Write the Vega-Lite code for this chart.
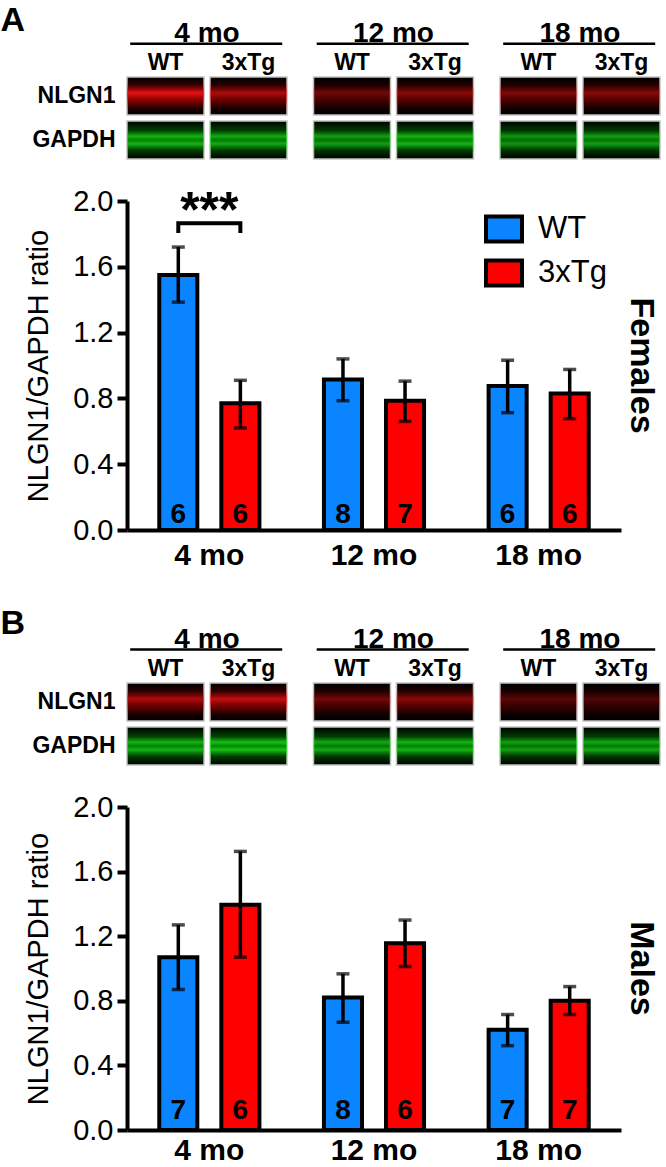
{
  "$schema": "https://vega.github.io/schema/vega-lite/v6.json",
  "padding": 0,
  "autosize": {"type": "pad"},
  "bounds": "flush",
  "spacing": 42,
  "config": {
    "font": "Liberation Sans, Arial, sans-serif",
    "view": {"stroke": null},
    "axis": {"labelColor": "black", "titleColor": "black", "domainColor": "black", "tickColor": "black", "grid": false},
    "title": {"color": "black"},
    "legend": {"labelColor": "black"}
  },
  "datasets": {
    "bars": [
      {"sex": "F", "age": "4 mo", "geno": "WT", "mean": 1.55, "lo": 1.385, "hi": 1.72, "n": 6},
      {"sex": "F", "age": "4 mo", "geno": "3xTg", "mean": 0.77, "lo": 0.62, "hi": 0.91, "n": 6},
      {"sex": "F", "age": "12 mo", "geno": "WT", "mean": 0.915, "lo": 0.786, "hi": 1.04, "n": 8},
      {"sex": "F", "age": "12 mo", "geno": "3xTg", "mean": 0.785, "lo": 0.66, "hi": 0.905, "n": 7},
      {"sex": "F", "age": "18 mo", "geno": "WT", "mean": 0.875, "lo": 0.713, "hi": 1.032, "n": 6},
      {"sex": "F", "age": "18 mo", "geno": "3xTg", "mean": 0.83, "lo": 0.677, "hi": 0.976, "n": 6},
      {"sex": "M", "age": "4 mo", "geno": "WT", "mean": 1.07, "lo": 0.87, "hi": 1.27, "n": 7},
      {"sex": "M", "age": "4 mo", "geno": "3xTg", "mean": 1.395, "lo": 1.07, "hi": 1.725, "n": 6},
      {"sex": "M", "age": "12 mo", "geno": "WT", "mean": 0.82, "lo": 0.667, "hi": 0.967, "n": 8},
      {"sex": "M", "age": "12 mo", "geno": "3xTg", "mean": 1.157, "lo": 1.012, "hi": 1.3, "n": 6},
      {"sex": "M", "age": "18 mo", "geno": "WT", "mean": 0.62, "lo": 0.522, "hi": 0.715, "n": 7},
      {"sex": "M", "age": "18 mo", "geno": "3xTg", "mean": 0.8, "lo": 0.715, "hi": 0.888, "n": 7}
    ],
    "blots": [
      {"panel": "A", "age": "4 mo", "geno": "WT", "row": "NLGN1", "level": 1.0},
      {"panel": "A", "age": "4 mo", "geno": "3xTg", "row": "NLGN1", "level": 0.75},
      {"panel": "A", "age": "12 mo", "geno": "WT", "row": "NLGN1", "level": 0.5},
      {"panel": "A", "age": "12 mo", "geno": "3xTg", "row": "NLGN1", "level": 0.6},
      {"panel": "A", "age": "18 mo", "geno": "WT", "row": "NLGN1", "level": 0.55},
      {"panel": "A", "age": "18 mo", "geno": "3xTg", "row": "NLGN1", "level": 0.6},
      {"panel": "A", "age": "4 mo", "geno": "WT", "row": "GAPDH", "level": 0.85},
      {"panel": "A", "age": "4 mo", "geno": "3xTg", "row": "GAPDH", "level": 0.8},
      {"panel": "A", "age": "12 mo", "geno": "WT", "row": "GAPDH", "level": 0.75},
      {"panel": "A", "age": "12 mo", "geno": "3xTg", "row": "GAPDH", "level": 0.85},
      {"panel": "A", "age": "18 mo", "geno": "WT", "row": "GAPDH", "level": 0.7},
      {"panel": "A", "age": "18 mo", "geno": "3xTg", "row": "GAPDH", "level": 0.75},
      {"panel": "B", "age": "4 mo", "geno": "WT", "row": "NLGN1", "level": 0.75},
      {"panel": "B", "age": "4 mo", "geno": "3xTg", "row": "NLGN1", "level": 0.85},
      {"panel": "B", "age": "12 mo", "geno": "WT", "row": "NLGN1", "level": 0.5},
      {"panel": "B", "age": "12 mo", "geno": "3xTg", "row": "NLGN1", "level": 0.6},
      {"panel": "B", "age": "18 mo", "geno": "WT", "row": "NLGN1", "level": 0.4},
      {"panel": "B", "age": "18 mo", "geno": "3xTg", "row": "NLGN1", "level": 0.35},
      {"panel": "B", "age": "4 mo", "geno": "WT", "row": "GAPDH", "level": 0.85},
      {"panel": "B", "age": "4 mo", "geno": "3xTg", "row": "GAPDH", "level": 0.9},
      {"panel": "B", "age": "12 mo", "geno": "WT", "row": "GAPDH", "level": 0.8},
      {"panel": "B", "age": "12 mo", "geno": "3xTg", "row": "GAPDH", "level": 0.85},
      {"panel": "B", "age": "18 mo", "geno": "WT", "row": "GAPDH", "level": 0.75},
      {"panel": "B", "age": "18 mo", "geno": "3xTg", "row": "GAPDH", "level": 0.8}
    ],
    "sig": [
      {"age": "4 mo", "geno": "WT", "v": 1.805, "k": 1},
      {"age": "4 mo", "geno": "WT", "v": 1.865, "k": 2},
      {"age": "4 mo", "geno": "3xTg", "v": 1.865, "k": 3},
      {"age": "4 mo", "geno": "3xTg", "v": 1.805, "k": 4}
    ]
  },
  "resolve": {
    "scale": {"x": "independent", "y": "independent", "xOffset": "independent", "fill": "independent", "opacity": "independent"},
    "legend": {"fill": "independent", "opacity": "independent"}
  },
  "vconcat": [
    {
      "width": 533,
      "height": 159,
      "data": {"name": "blots"},
      "transform": [{"filter": "datum.panel == 'A'"}],
      "encoding": {
        "x": {"field": "age", "type": "nominal", "sort": ["4 mo", "12 mo", "18 mo"], "scale": {"paddingInner": 0.142, "paddingOuter": 0}, "axis": null},
        "y": {"field": "row", "type": "nominal", "scale": {"domain": ["hdr", "NLGN1", "GAPDH"], "paddingInner": 0.1364, "paddingOuter": 0.375, "align": 1},
          "axis": {"title": "A", "titleAngle": 0, "titleAlign": "left", "titleBaseline": "alphabetic", "titleX": -127, "titleY": 30, "titleFontSize": 34, "titleFontWeight": "bold",
            "domain": false, "ticks": false, "labelExpr": "datum.value == 'hdr' ? '' : datum.value", "labelFontSize": 23, "labelFontWeight": "bold", "labelPadding": 12}}
      },
      "layer": [
        {
          "mark": {"type": "rect", "fill": "black", "stroke": "#c4c4c4", "strokeWidth": 1.5},
          "encoding": {"xOffset": {"field": "geno", "type": "nominal", "sort": ["WT", "3xTg"], "scale": {"paddingInner": 0.072, "paddingOuter": 0}}}
        },
        {
          "transform": [{"filter": "datum.row == 'NLGN1'"}],
          "mark": {"type": "rect", "fill": {"gradient": "linear", "x1": 0, "y1": 0, "x2": 0, "y2": 1, "stops": [
            {"offset": 0, "color": "rgba(255,0,0,0)"},
            {"offset": 0.2, "color": "rgba(255,0,0,0.2)"},
            {"offset": 0.42, "color": "rgba(255,20,20,0.9)"},
            {"offset": 0.6, "color": "rgba(255,0,0,0.55)"},
            {"offset": 0.85, "color": "rgba(255,0,0,0.1)"},
            {"offset": 1, "color": "rgba(255,0,0,0)"}]}},
          "encoding": {
            "xOffset": {"field": "geno", "type": "nominal", "sort": ["WT", "3xTg"]},
            "opacity": {"field": "level", "type": "quantitative", "scale": {"domain": [0, 1], "range": [0, 1]}, "legend": null}
          }
        },
        {
          "transform": [{"filter": "datum.row == 'GAPDH'"}],
          "mark": {"type": "rect", "fill": {"gradient": "linear", "x1": 0, "y1": 0, "x2": 0, "y2": 1, "stops": [
            {"offset": 0, "color": "rgba(0,220,0,0)"},
            {"offset": 0.25, "color": "rgba(0,220,0,0.35)"},
            {"offset": 0.4, "color": "rgba(30,235,30,0.9)"},
            {"offset": 0.5, "color": "rgba(0,220,0,0.7)"},
            {"offset": 0.6, "color": "rgba(30,235,30,0.9)"},
            {"offset": 0.78, "color": "rgba(0,220,0,0.3)"},
            {"offset": 1, "color": "rgba(0,220,0,0)"}]}},
          "encoding": {
            "xOffset": {"field": "geno", "type": "nominal", "sort": ["WT", "3xTg"]},
            "opacity": {"field": "level", "type": "quantitative", "scale": {"domain": [0, 1], "range": [0, 1]}, "legend": null}
          }
        },
        {
          "transform": [{"filter": "datum.row == 'NLGN1' && datum.geno == 'WT'"}],
          "mark": {"type": "text", "fontSize": 28, "fontWeight": "bold", "baseline": "alphabetic"},
          "encoding": {"text": {"field": "age"}, "y": {"datum": "hdr", "bandPosition": 0.23}}
        },
        {
          "transform": [{"filter": "datum.row == 'NLGN1' && datum.geno == 'WT'"}],
          "mark": {"type": "rule", "strokeWidth": 2.5, "color": "black"},
          "encoding": {"x": {"field": "age", "type": "nominal", "bandPosition": 0.02}, "x2": {"field": "age", "bandPosition": 0.97}, "y": {"datum": "hdr", "bandPosition": 0.28}}
        },
        {
          "transform": [{"filter": "datum.row == 'NLGN1'"}],
          "mark": {"type": "text", "fontSize": 23, "fontWeight": "bold", "baseline": "alphabetic"},
          "encoding": {"text": {"field": "geno"}, "xOffset": {"field": "geno", "type": "nominal", "sort": ["WT", "3xTg"]}, "y": {"datum": "hdr", "bandPosition": 0.97}}
        }
      ]
    },
    {
      "width": 494,
      "height": 329,
      "title": {"text": "Females", "orient": "right", "anchor": "middle", "frame": "group", "fontSize": 34, "fontWeight": "bold", "offset": 3},
      "data": {"name": "bars"},
      "transform": [{"filter": "datum.sex == 'F'"}],
      "encoding": {
        "x": {"field": "age", "type": "nominal", "sort": ["4 mo", "12 mo", "18 mo"], "scale": {"paddingInner": 0, "paddingOuter": 0},
          "axis": {"title": null, "labelAngle": 0, "ticks": false, "domainWidth": 4, "labelFontSize": 30, "labelFontWeight": "bold", "labelPadding": 10}}
      },
      "layer": [
        {
          "mark": {"type": "bar", "stroke": "black", "strokeWidth": 4},
          "encoding": {
            "xOffset": {"field": "geno", "type": "nominal", "sort": ["WT", "3xTg"], "scale": {"paddingInner": 0.387, "paddingOuter": 0.52}},
            "y": {"field": "mean", "type": "quantitative", "scale": {"domain": [0, 2]},
              "axis": {"title": "NLGN1/GAPDH ratio", "values": [0, 0.4, 0.8, 1.2, 1.6, 2.0], "format": ".1f", "domainWidth": 4, "tickWidth": 4, "tickSize": 10, "labelFontSize": 29, "labelPadding": 4, "titleFontSize": 29, "titleFontWeight": "normal", "titlePadding": 19}},
            "fill": {"field": "geno", "type": "nominal", "scale": {"domain": ["WT", "3xTg"], "range": ["#0a84ff", "#ff0000"]},
              "legend": {"orient": "none", "legendX": 357, "legendY": 8, "title": null, "direction": "vertical", "symbolType": "M-1,-0.7H1V0.7H-1Z", "symbolSize": 1296, "symbolStrokeColor": "black", "symbolStrokeWidth": 4, "labelFontSize": 31, "labelOffset": 14, "rowPadding": 2, "padding": 0}}
          }
        },
        {
          "mark": {"type": "rule", "strokeWidth": 3.5, "color": "black"},
          "encoding": {"xOffset": {"field": "geno", "type": "nominal", "sort": ["WT", "3xTg"]}, "y": {"field": "lo", "type": "quantitative"}, "y2": {"field": "hi"}}
        },
        {
          "mark": {"type": "tick", "size": 13, "thickness": 3.5, "color": "black"},
          "encoding": {"xOffset": {"field": "geno", "type": "nominal", "sort": ["WT", "3xTg"]}, "y": {"field": "hi", "type": "quantitative"}}
        },
        {
          "mark": {"type": "tick", "size": 13, "thickness": 3.5, "color": "black"},
          "encoding": {"xOffset": {"field": "geno", "type": "nominal", "sort": ["WT", "3xTg"]}, "y": {"field": "lo", "type": "quantitative"}}
        },
        {
          "mark": {"type": "text", "fontSize": 28, "fontWeight": "bold", "baseline": "alphabetic"},
          "encoding": {"xOffset": {"field": "geno", "type": "nominal", "sort": ["WT", "3xTg"]}, "text": {"field": "n"}, "y": {"datum": 0.04}}
        },
        {
          "data": {"name": "sig"},
          "mark": {"type": "line", "strokeWidth": 4, "color": "black", "strokeCap": "butt"},
          "encoding": {"xOffset": {"field": "geno", "type": "nominal", "sort": ["WT", "3xTg"]}, "y": {"field": "v", "type": "quantitative"}, "order": {"field": "k"}}
        },
        {
          "data": {"values": [{"age": "4 mo", "label": "***"}]},
          "mark": {"type": "text", "fontSize": 50, "fontWeight": "bold", "baseline": "alphabetic"},
          "encoding": {"text": {"field": "label"}, "y": {"datum": 1.84}}
        }
      ]
    },
    {
      "width": 533,
      "height": 193,
      "data": {"name": "blots"},
      "transform": [{"filter": "datum.panel == 'B'"}],
      "encoding": {
        "x": {"field": "age", "type": "nominal", "sort": ["4 mo", "12 mo", "18 mo"], "scale": {"paddingInner": 0.142, "paddingOuter": 0}, "axis": null},
        "y": {"field": "row", "type": "nominal", "scale": {"domain": ["hdr", "NLGN1", "GAPDH"], "paddingInner": 0.1364, "paddingOuter": 0.761, "align": 1},
          "axis": {"title": "B", "titleAngle": 0, "titleAlign": "left", "titleBaseline": "alphabetic", "titleX": -127, "titleY": 61, "titleFontSize": 34, "titleFontWeight": "bold",
            "domain": false, "ticks": false, "labelExpr": "datum.value == 'hdr' ? '' : datum.value", "labelFontSize": 23, "labelFontWeight": "bold", "labelPadding": 12}}
      },
      "layer": [
        {
          "mark": {"type": "rect", "fill": "black", "stroke": "#c4c4c4", "strokeWidth": 1.5},
          "encoding": {"xOffset": {"field": "geno", "type": "nominal", "sort": ["WT", "3xTg"], "scale": {"paddingInner": 0.072, "paddingOuter": 0}}}
        },
        {
          "transform": [{"filter": "datum.row == 'NLGN1'"}],
          "mark": {"type": "rect", "fill": {"gradient": "linear", "x1": 0, "y1": 0, "x2": 0, "y2": 1, "stops": [
            {"offset": 0, "color": "rgba(255,0,0,0)"},
            {"offset": 0.2, "color": "rgba(255,0,0,0.2)"},
            {"offset": 0.42, "color": "rgba(255,20,20,0.9)"},
            {"offset": 0.6, "color": "rgba(255,0,0,0.55)"},
            {"offset": 0.85, "color": "rgba(255,0,0,0.1)"},
            {"offset": 1, "color": "rgba(255,0,0,0)"}]}},
          "encoding": {
            "xOffset": {"field": "geno", "type": "nominal", "sort": ["WT", "3xTg"]},
            "opacity": {"field": "level", "type": "quantitative", "scale": {"domain": [0, 1], "range": [0, 1]}, "legend": null}
          }
        },
        {
          "transform": [{"filter": "datum.row == 'GAPDH'"}],
          "mark": {"type": "rect", "fill": {"gradient": "linear", "x1": 0, "y1": 0, "x2": 0, "y2": 1, "stops": [
            {"offset": 0, "color": "rgba(0,220,0,0)"},
            {"offset": 0.25, "color": "rgba(0,220,0,0.35)"},
            {"offset": 0.4, "color": "rgba(30,235,30,0.9)"},
            {"offset": 0.5, "color": "rgba(0,220,0,0.7)"},
            {"offset": 0.6, "color": "rgba(30,235,30,0.9)"},
            {"offset": 0.78, "color": "rgba(0,220,0,0.3)"},
            {"offset": 1, "color": "rgba(0,220,0,0)"}]}},
          "encoding": {
            "xOffset": {"field": "geno", "type": "nominal", "sort": ["WT", "3xTg"]},
            "opacity": {"field": "level", "type": "quantitative", "scale": {"domain": [0, 1], "range": [0, 1]}, "legend": null}
          }
        },
        {
          "transform": [{"filter": "datum.row == 'NLGN1' && datum.geno == 'WT'"}],
          "mark": {"type": "text", "fontSize": 28, "fontWeight": "bold", "baseline": "alphabetic"},
          "encoding": {"text": {"field": "age"}, "y": {"datum": "hdr", "bandPosition": 0.23}}
        },
        {
          "transform": [{"filter": "datum.row == 'NLGN1' && datum.geno == 'WT'"}],
          "mark": {"type": "rule", "strokeWidth": 2.5, "color": "black"},
          "encoding": {"x": {"field": "age", "type": "nominal", "bandPosition": 0.02}, "x2": {"field": "age", "bandPosition": 0.97}, "y": {"datum": "hdr", "bandPosition": 0.28}}
        },
        {
          "transform": [{"filter": "datum.row == 'NLGN1'"}],
          "mark": {"type": "text", "fontSize": 23, "fontWeight": "bold", "baseline": "alphabetic"},
          "encoding": {"text": {"field": "geno"}, "xOffset": {"field": "geno", "type": "nominal", "sort": ["WT", "3xTg"]}, "y": {"datum": "hdr", "bandPosition": 0.97}}
        }
      ]
    },
    {
      "width": 494,
      "height": 323,
      "title": {"text": "Males", "orient": "right", "anchor": "middle", "frame": "group", "fontSize": 34, "fontWeight": "bold", "offset": 3},
      "data": {"name": "bars"},
      "transform": [{"filter": "datum.sex == 'M'"}],
      "encoding": {
        "x": {"field": "age", "type": "nominal", "sort": ["4 mo", "12 mo", "18 mo"], "scale": {"paddingInner": 0, "paddingOuter": 0},
          "axis": {"title": null, "labelAngle": 0, "ticks": false, "domainWidth": 4, "labelFontSize": 30, "labelFontWeight": "bold", "labelPadding": 5}},
        "xOffset": {"field": "geno", "type": "nominal", "sort": ["WT", "3xTg"], "scale": {"paddingInner": 0.387, "paddingOuter": 0.52}}
      },
      "layer": [
        {
          "mark": {"type": "bar", "stroke": "black", "strokeWidth": 4},
          "encoding": {
            "y": {"field": "mean", "type": "quantitative", "scale": {"domain": [0, 2]},
              "axis": {"title": "NLGN1/GAPDH ratio", "values": [0, 0.4, 0.8, 1.2, 1.6, 2.0], "format": ".1f", "domainWidth": 4, "tickWidth": 4, "tickSize": 10, "labelFontSize": 29, "labelPadding": 4, "titleFontSize": 29, "titleFontWeight": "normal", "titlePadding": 19}},
            "fill": {"field": "geno", "type": "nominal", "scale": {"domain": ["WT", "3xTg"], "range": ["#0a84ff", "#ff0000"]}, "legend": null}
          }
        },
        {
          "mark": {"type": "rule", "strokeWidth": 3.5, "color": "black"},
          "encoding": {"y": {"field": "lo", "type": "quantitative"}, "y2": {"field": "hi"}}
        },
        {
          "mark": {"type": "tick", "size": 13, "thickness": 3.5, "color": "black"},
          "encoding": {"y": {"field": "hi", "type": "quantitative"}}
        },
        {
          "mark": {"type": "tick", "size": 13, "thickness": 3.5, "color": "black"},
          "encoding": {"y": {"field": "lo", "type": "quantitative"}}
        },
        {
          "mark": {"type": "text", "fontSize": 28, "fontWeight": "bold", "baseline": "alphabetic"},
          "encoding": {"text": {"field": "n"}, "y": {"datum": 0.068}}
        }
      ]
    }
  ]
}
